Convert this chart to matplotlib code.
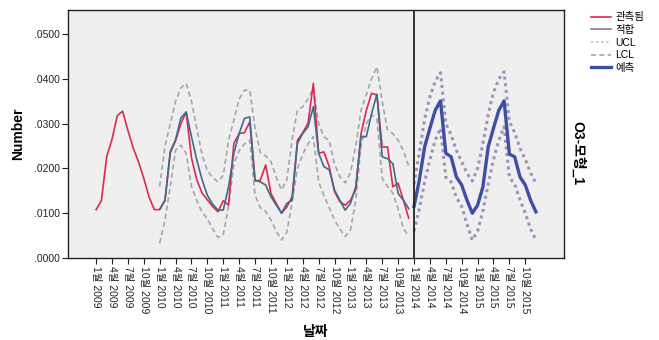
"""Recreate the SPSS O3 seasonal forecast chart."""

import matplotlib

matplotlib.use("Agg")
import matplotlib.pyplot as plt
from matplotlib.lines import Line2D
import numpy as np

plt.rcParams["font.family"] = ["Liberation Sans", "Noto Sans CJK KR", "DejaVu Sans"]

# month index 0 = Jan 2009
observed = [
    0.0108, 0.0128, 0.0226, 0.0265, 0.0318, 0.0328, 0.0285, 0.0246, 0.0215, 0.0178, 0.0136, 0.0108,
    0.0108, 0.0128, 0.0235, 0.0262, 0.0300, 0.0326, 0.0224, 0.0175, 0.0145, 0.0130, 0.0115, 0.0103,
    0.0128, 0.0118, 0.0256, 0.0278, 0.0280, 0.0304, 0.0172, 0.0174, 0.0208, 0.0144, 0.0122, 0.0100,
    0.0114, 0.0137, 0.0263, 0.0280, 0.0301, 0.0390, 0.0234, 0.0237, 0.0204, 0.0148, 0.0126, 0.0118,
    0.0129, 0.0152, 0.0278, 0.0330, 0.0368, 0.0364, 0.0248, 0.0248, 0.0159, 0.0167, 0.0129, 0.0089,
]
fit_start = 12
fitted = [
    0.0109, 0.0129, 0.0238, 0.0264, 0.0313, 0.0326, 0.0271, 0.0219, 0.0175, 0.0140, 0.0120, 0.0107,
    0.0107, 0.0159, 0.0234, 0.0278, 0.0312, 0.0315, 0.0174, 0.0170, 0.0163, 0.0137, 0.0118, 0.0100,
    0.0122, 0.0129, 0.0256, 0.0278, 0.0293, 0.0338, 0.0234, 0.0204, 0.0197, 0.0152, 0.0129, 0.0107,
    0.0122, 0.0159, 0.0271, 0.0271, 0.0323, 0.0366, 0.0226, 0.0222, 0.0211, 0.0144, 0.0129, 0.0110,
]
ucl = [
    0.0160, 0.0250, 0.0300, 0.0350, 0.0380, 0.0390, 0.0350, 0.0290, 0.0230, 0.0195, 0.0180, 0.0170,
    0.0185, 0.0263, 0.0308, 0.0355, 0.0375, 0.0375, 0.0290, 0.0235, 0.0228, 0.0215, 0.0180, 0.0152,
    0.0175, 0.0265, 0.0330, 0.0338, 0.0355, 0.0380, 0.0300, 0.0271, 0.0262, 0.0210, 0.0182, 0.0168,
    0.0190, 0.0250, 0.0330, 0.0365, 0.0401, 0.0427, 0.0350, 0.0285, 0.0278, 0.0263, 0.0240, 0.0205,
]
lcl = [
    0.0033, 0.0085, 0.0160, 0.0241, 0.0252, 0.0234, 0.0160, 0.0128, 0.0102, 0.0088, 0.0065, 0.0046,
    0.0052, 0.0115, 0.0210, 0.0240, 0.0255, 0.0263, 0.0140, 0.0112, 0.0104, 0.0085, 0.0060, 0.0040,
    0.0058, 0.0125, 0.0200, 0.0232, 0.0255, 0.0271, 0.0170, 0.0140, 0.0112, 0.0085, 0.0065, 0.0048,
    0.0062, 0.0129, 0.0250, 0.0300, 0.0320, 0.0310, 0.0178, 0.0160, 0.0145, 0.0110, 0.0065, 0.0050,
]
forecast_start = 60
forecast = [
    0.0115, 0.0174, 0.0248, 0.0290, 0.0330, 0.0351, 0.0234, 0.0226, 0.0181, 0.0163, 0.0129, 0.0100,
    0.0118, 0.0159, 0.0248, 0.0290, 0.0330, 0.0351, 0.0232, 0.0226, 0.0181, 0.0163, 0.0129, 0.0103,
]
forecast_ucl = [
    0.0165, 0.0235, 0.0310, 0.0360, 0.0395, 0.0414, 0.0300, 0.0275, 0.0240, 0.0215, 0.0189, 0.0172,
    0.0200, 0.0255, 0.0320, 0.0370, 0.0400, 0.0416, 0.0305, 0.0280, 0.0245, 0.0220, 0.0190, 0.0167,
]
forecast_lcl = [
    0.0060, 0.0110, 0.0170, 0.0220, 0.0263, 0.0290, 0.0180, 0.0170, 0.0135, 0.0115, 0.0075, 0.0040,
    0.0060, 0.0105, 0.0165, 0.0220, 0.0263, 0.0293, 0.0180, 0.0165, 0.0130, 0.0100, 0.0065, 0.0040,
]

years = list(range(2009, 2016))
tick_months = [1, 4, 7, 10]
y_ticks = [0.0, 0.01, 0.02, 0.03, 0.04, 0.05]

RED = "#E0284E"
FIT = "#3F6C8A"
BAND = "#A4A4AE"
FC = "#3D4FA3"
FC_BAND = "#9D93B5"

fig = plt.figure(figsize=(6.59, 3.40), dpi=100)
ax = fig.add_axes([0.1032, 0.2412, 0.7526, 0.7294])
ax.set_facecolor("#EFEFF0")

x_obs = np.arange(len(observed))
x_fit = fit_start + np.arange(len(fitted))
x_fc = forecast_start + np.arange(len(forecast))

ax.plot(x_fit, ucl, color=BAND, lw=1.2, ls=(0, (3, 2)))
ax.plot(x_fit, lcl, color=BAND, lw=1.2, ls=(0, (3, 2)))
ax.plot(x_fc, forecast_ucl, color=FC_BAND, lw=2.2, ls=(0, (1, 1.2)))
ax.plot(x_fc, forecast_lcl, color=FC_BAND, lw=2.2, ls=(0, (1, 1.2)))
ax.plot(x_obs, observed, color=RED, lw=1.2)
ax.plot(x_fit, fitted, color=FIT, lw=1.2)
ax.plot(x_fc, forecast, color=FC, lw=2.4)
ax.axvline(forecast_start, color="#222222", lw=1.3)

ax.set_xlim(-5.3, 88.3)
ax.set_ylim(0, 0.0554)
ax.set_yticks(y_ticks)
ax.set_yticklabels([f"{v:.4f}".lstrip("0") for v in y_ticks])

tick_pos = [(y - 2009) * 12 + m - 1 for y in years for m in tick_months]
tick_lab = [f"{m}월 {y}" for y in years for m in tick_months]
ax.set_xticks(tick_pos)
ax.set_xticklabels(tick_lab, rotation=-90, ha="center", va="top")
ax.tick_params(axis="both", direction="out", length=4, width=0.8, colors="#222222",
               labelsize=7.5, pad=2)
for spine in ax.spines.values():
    spine.set_color("#222222")
    spine.set_linewidth(1.0)

ax.set_ylabel("Number", fontsize=10, fontweight="bold", labelpad=6)
ax.set_xlabel("날짜", fontsize=10, fontweight="bold", labelpad=8)

fig.text(0.866, 0.55, "O3-모형_1", rotation=-90, fontsize=10, fontweight="bold",
         ha="left", va="center")

handles = [
    Line2D([], [], color=RED, lw=1.2),
    Line2D([], [], color="#808080", lw=1.2),
    Line2D([], [], color="#C0C0C8", lw=1.2, ls=(0, (1.5, 1.5))),
    Line2D([], [], color=BAND, lw=1.2, ls=(0, (3, 2))),
    Line2D([], [], color=FC, lw=2.4),
]
fig.legend(handles, ["관측됨", "적합", "UCL", "LCL", "예측"], loc="upper left",
           bbox_to_anchor=(0.885, 0.985), frameon=False, fontsize=7.5,
           handlelength=2.0, handletextpad=0.4, labelspacing=0.25, borderpad=0.2)

fig.savefig("out.png", dpi=100)
plt.close(fig)
